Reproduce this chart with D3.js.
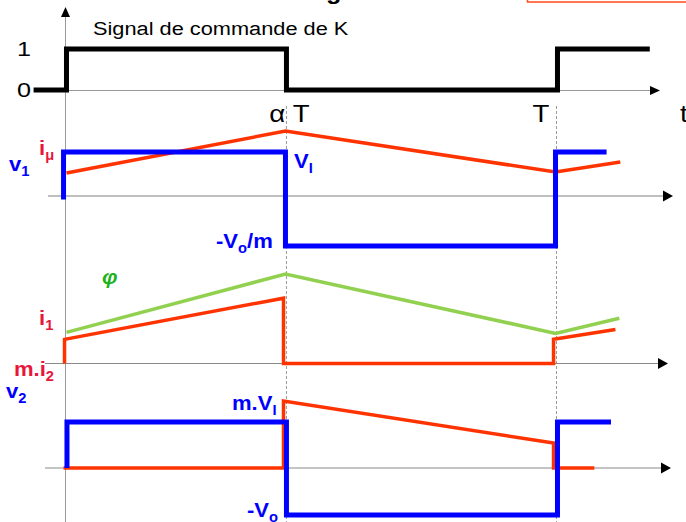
<!DOCTYPE html>
<html>
<head>
<meta charset="utf-8">
<script src="https://cdn.jsdelivr.net/npm/d3@7"></script>
<style>
  body { margin: 0; background: #fff; }
  svg { display: block; font-family: "Liberation Sans", Arial, sans-serif; }
</style>
</head>
<body>
<svg id="chart" width="686" height="522"></svg>
<script>
// time is in units of the period T
const alpha = 0.45;
const timeTicks = [alpha, 1];
const timeTickLabels = ['α T', 'T'];
const levelTicks = [0, 1];

// [t, value] points (panel units)
const command = [[-0.065, 0], [0.002, 0], [0.002, 1], [0.45, 1], [0.45, 0], [1.002, 0], [1.002, 1], [1.19, 1]];
const v1 = [[-0.004, -0.08], [-0.004, 1], [0.448, 1], [0.448, -1.136], [0.998, -1.136], [0.998, 1], [1.102, 1]];
const iMu = [[0.002, 0.523], [0.448, 1.477], [0.998, 0.545], [1.13, 0.773]];
const phi = [[0.002, 0.348], [0.448, 1], [0.998, 0.337], [1.128, 0.506]];
const i1 = [[-0.002, 0], [-0.002, 0.27], [0.444, 0.73], [0.444, 0], [0.994, 0], [0.994, 0.27], [1.12, 0.38]];
const v2 = [[0.003, 0], [0.003, 1], [0.45, 1], [0.45, -1.02], [1.002, -1.02], [1.002, 1], [1.111, 1]];
const mi2 = [[-0.004, 0], [0.444, 0], [0.444, 1.457], [0.994, 0.543], [0.994, 0], [1.077, 0]];

const BLUE = '#0000ff', ORANGE = '#ff3300', GREEN = '#92d050', LABEL_RED = '#e8173a';

const svg = d3.select('#chart');

const x = d3.scaleLinear().domain([0, 1]).range([65.5, 556.5]);
const yK = d3.scaleLinear().domain([0, 1]).range([90, 49]);
const y1 = d3.scaleLinear().domain([0, 1]).range([196, 152]);
const y3 = d3.scaleLinear().domain([0, 1]).range([363.5, 274]);
const y4 = d3.scaleLinear().domain([0, 1]).range([468, 422]);

// clipped bits of the slide: title descender and a red box
svg.append('text').attr('x', 326).attr('y', -1)
    .attr('font-size', 22).attr('font-weight', 'bold')
    .attr('transform', 'translate(326,0) scale(1.15,1) translate(-326,0)')
    .text('g');
svg.append('rect').attr('x', 527.5).attr('y', -6).attr('width', 170).attr('height', 8)
    .attr('fill', 'none').attr('stroke', '#ff4a1a').attr('stroke-width', 1.5);

// dashed markers at alpha.T and T
svg.selectAll('.mark').data(timeTicks).join('line')
    .attr('x1', d => x(d)).attr('x2', d => x(d))
    .attr('y1', 106).attr('y2', 522)
    .attr('stroke', '#999').attr('stroke-width', 1).attr('stroke-dasharray', '3,2');

// vertical axis
svg.append('line').attr('x1', 65.5).attr('x2', 65.5).attr('y1', 16).attr('y2', 522)
    .attr('stroke', '#999').attr('stroke-width', 1);
svg.append('path').attr('d', 'M65.5,7 L70,17 L61,17 Z').attr('fill', '#000');

// horizontal time axes
function timeAxis(y0, xStart, xTip, len, half, color, w) {
    svg.append('line').attr('x1', xStart).attr('x2', xTip - len)
        .attr('y1', y0).attr('y2', y0)
        .attr('stroke', color).attr('stroke-width', w);
    svg.append('path')
        .attr('d', `M${xTip},${y0} L${xTip - len},${y0 - half} L${xTip - len},${y0 + half} Z`)
        .attr('fill', '#000');
}
timeAxis(yK(0) + 0.5, 65, 660, 10, 4.5, '#999', 1);
timeAxis(y1(0), 48, 673, 10, 5.5, '#aaa', 1.5);
timeAxis(y3(0), 45, 668, 10, 5.5, '#888', 1);
timeAxis(y4(0), 45, 671, 10, 5.5, '#888', 1);

// tick labels 0 / 1
const levelAxis = svg.append('g')
    .attr('transform', 'translate(31,0) scale(1.2,1)')
    .call(d3.axisLeft(yK).tickValues(levelTicks).tickSize(0).tickPadding(0).tickFormat(d3.format('d')))
    .call(a => a.select('.domain').remove());
levelAxis.selectAll('text').attr('font-size', 21).attr('font-family', null).attr('fill', '#000');

// tick labels alpha.T / T
const timeAxisLabels = svg.append('g')
    .attr('transform', `translate(0,${yK(0)})`)
    .call(d3.axisBottom(x).tickValues(timeTicks).tickSize(0).tickPadding(16)
        .tickFormat((d, i) => timeTickLabels[i]))
    .call(a => a.select('.domain').remove());
timeAxisLabels.selectAll('text')
    .attr('font-size', 23).attr('font-family', null).attr('fill', '#000')
    .attr('transform', 'scale(1.2,1)')
    .attr('dx', (d, i) => i === 0 ? 2 : -13.5);

// waveforms
function wave(data, y, color, w) {
    svg.append('path').datum(data)
        .attr('d', d3.line().x(d => x(d[0])).y(d => y(d[1])))
        .attr('fill', 'none').attr('stroke', color).attr('stroke-width', w)
        .attr('stroke-linejoin', 'miter').attr('stroke-linecap', 'butt');
}
wave(command, yK, '#000', 5);
wave(iMu, y1, ORANGE, 3.5);
wave(v1, y1, BLUE, 5);
wave(phi, y3, GREEN, 3.5);
wave(i1, y3, ORANGE, 3.5);
wave(mi2, y4, ORANGE, 3.5);
wave(v2, y4, BLUE, 5);

// text labels: parts starting with '_' are subscripts
function label(px, py, parts, color, size, opts = {}) {
    const sx = opts.sx || 1.2;
    const t = svg.append('text')
        .attr('transform', `translate(${px},${py}) scale(${sx},1)`)
        .attr('fill', color).attr('font-size', size)
        .attr('font-weight', opts.bold ? 'bold' : 'normal')
        .attr('font-style', opts.italic ? 'italic' : 'normal');
    let low = false;
    parts.forEach(p => {
        const sub = p.startsWith('_');
        const s = t.append('tspan').text(sub ? p.slice(1) : p);
        if (sub) s.attr('font-size', 14).attr('dy', low ? 0 : 5);
        else if (low) s.attr('dy', -5);
        low = sub;
    });
}
label(93, 35, ['Signal de commande de K'], '#000', 18, { sx: 1.21 });
label(680, 122, ['t'], '#000', 23);

const B = { bold: true, sx: 1.05 };
label(9, 171, ['v', '_1'], BLUE, 21, B);
label(39, 155, ['i', '_μ'], LABEL_RED, 21, B);
label(294, 168, ['V', '_I'], BLUE, 21, B);
label(216, 248, ['-V', '_o', '/m'], BLUE, 21, B);
label(102, 284, ['φ'], '#1db31d', 21, { bold: true, italic: true, sx: 1.05 });
label(39, 325, ['i', '_1'], LABEL_RED, 21, B);
label(14, 376, ['m.i', '_2'], LABEL_RED, 21, B);
label(6, 398, ['v', '_2'], BLUE, 21, B);
label(232, 410, ['m.V', '_I'], BLUE, 21, B);
label(247, 517, ['-V', '_o'], BLUE, 21, B);
</script>
</body>
</html>
